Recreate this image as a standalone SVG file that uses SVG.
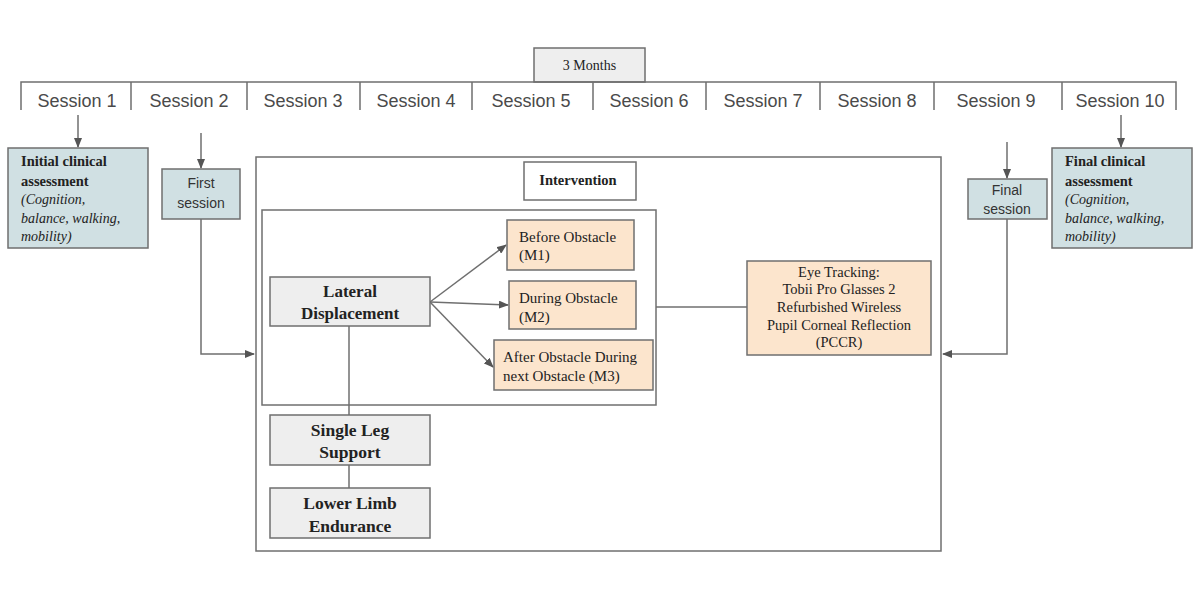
<svg xmlns="http://www.w3.org/2000/svg" width="1200" height="600" viewBox="0 0 1200 600">
<defs>
<marker id="ah" markerWidth="10" markerHeight="8" refX="9" refY="4" orient="auto" markerUnits="userSpaceOnUse">
<path d="M0,0 L10,4 L0,8 Z" fill="#555"/>
</marker>
<style>
.box{stroke:#6f6f6f;stroke-width:1.5}
.blue{fill:#d0e0e3}
.gray{fill:#eeeeee}
.org{fill:#fce5cd}
.wht{fill:#ffffff}
.ln{fill:none;stroke:#6f6f6f;stroke-width:1.5}
.ses{font-family:"Liberation Sans",Arial,sans-serif;font-size:18px;fill:#4a4a4a;text-anchor:middle}
.ser{font-family:"Liberation Serif","Times New Roman",serif;fill:#222}
.san{font-family:"Liberation Sans",Arial,sans-serif;fill:#333}
</style>
</defs>
<rect width="1200" height="600" fill="#ffffff"/>

<g id="timeline">
<rect x="534" y="48" width="111" height="34" class="box gray"/>
<text x="589.5" y="70" class="ser" font-size="14" text-anchor="middle">3 Months</text>
<path d="M21,110 V82 H1176 V110 M131,82 V110 M247,82 V110 M360,82 V110 M472,82 V110 M593,82 V110 M706,82 V110 M820,82 V110 M934,82 V110 M1062,82 V110" class="ln" stroke="#888"/>
<text x="77" y="106.5" class="ses">Session 1</text>
<text x="189" y="106.5" class="ses">Session 2</text>
<text x="303" y="106.5" class="ses">Session 3</text>
<text x="416" y="106.5" class="ses">Session 4</text>
<text x="531" y="106.5" class="ses">Session 5</text>
<text x="649" y="106.5" class="ses">Session 6</text>
<text x="763" y="106.5" class="ses">Session 7</text>
<text x="877" y="106.5" class="ses">Session 8</text>
<text x="996" y="106.5" class="ses">Session 9</text>
<text x="1120" y="106.5" class="ses">Session 10</text>
</g>

<g id="connectors">
<line x1="78" y1="115" x2="78" y2="147" class="ln" marker-end="url(#ah)"/>
<line x1="1121" y1="115" x2="1121" y2="147" class="ln" marker-end="url(#ah)"/>
<line x1="201" y1="133" x2="201" y2="168" class="ln" marker-end="url(#ah)"/>
<line x1="1007" y1="142" x2="1007" y2="178" class="ln" marker-end="url(#ah)"/>
<path d="M201,219 V354 H254" class="ln" marker-end="url(#ah)"/>
<path d="M1007,219 V354 H943" class="ln" marker-end="url(#ah)"/>
<line x1="430" y1="302" x2="506" y2="245" class="ln" marker-end="url(#ah)"/>
<line x1="430" y1="302" x2="508" y2="305" class="ln" marker-end="url(#ah)"/>
<line x1="430" y1="302" x2="493" y2="367" class="ln" marker-end="url(#ah)"/>
<line x1="656" y1="307" x2="747" y2="307" class="ln"/>
<line x1="349" y1="326" x2="349" y2="488" class="ln"/>
</g>

<g id="initial">
<rect x="8" y="148" width="140" height="100" class="box blue"/>
<text class="ser" font-size="14.5" font-weight="bold" x="21" y="166">Initial clinical</text>
<text class="ser" font-size="14.5" font-weight="bold" x="21" y="186">assessment</text>
<text class="ser" font-size="14" font-style="italic" x="21" y="204">(Cognition,</text>
<text class="ser" font-size="14" font-style="italic" x="21" y="223">balance, walking,</text>
<text class="ser" font-size="14" font-style="italic" x="21" y="241">mobility)</text>
</g>

<g id="final">
<rect x="1052" y="148" width="140" height="100" class="box blue"/>
<text class="ser" font-size="14.5" font-weight="bold" x="1065" y="166">Final clinical</text>
<text class="ser" font-size="14.5" font-weight="bold" x="1065" y="186">assessment</text>
<text class="ser" font-size="14" font-style="italic" x="1065" y="204">(Cognition,</text>
<text class="ser" font-size="14" font-style="italic" x="1065" y="223">balance, walking,</text>
<text class="ser" font-size="14" font-style="italic" x="1065" y="241">mobility)</text>
</g>

<g id="first-session">
<rect x="162" y="169" width="78" height="50" class="box blue"/>
<text class="san" font-size="14" text-anchor="middle" x="201" y="188">First</text>
<text class="san" font-size="14" text-anchor="middle" x="201" y="208">session</text>
</g>

<g id="final-session">
<rect x="968" y="179" width="79" height="40" class="box blue"/>
<text class="san" font-size="14" text-anchor="middle" x="1007" y="195">Final</text>
<text class="san" font-size="14" text-anchor="middle" x="1007" y="214">session</text>
</g>

<g id="intervention">
<rect x="256" y="157" width="685" height="394" fill="none" class="box"/>
<rect x="524" y="162" width="112" height="38" class="box wht"/>
<text class="ser" font-size="14.5" font-weight="bold" text-anchor="middle" x="578" y="185">Intervention</text>
<rect x="262" y="210" width="394" height="195" fill="none" class="box"/>
</g>

<g id="lateral">
<rect x="270" y="277" width="160" height="49" class="box gray"/>
<text class="ser" font-size="17" font-weight="bold" text-anchor="middle" x="350" y="297">Lateral</text>
<text class="ser" font-size="17" font-weight="bold" text-anchor="middle" x="350" y="319">Displacement</text>
</g>

<g id="before">
<rect x="507" y="220" width="127" height="50" class="box org"/>
<text class="ser" font-size="15" x="519" y="242">Before Obstacle</text>
<text class="ser" font-size="15" x="519" y="260">(M1)</text>
</g>

<g id="during">
<rect x="509" y="281" width="127" height="48" class="box org"/>
<text class="ser" font-size="15" x="519" y="303">During Obstacle</text>
<text class="ser" font-size="15" x="519" y="322">(M2)</text>
</g>

<g id="after">
<rect x="494" y="340" width="159" height="50" class="box org"/>
<text class="ser" font-size="15" x="503" y="362">After Obstacle During</text>
<text class="ser" font-size="15" x="503" y="381">next Obstacle (M3)</text>
</g>

<g id="eye">
<rect x="747" y="261" width="184" height="94" class="box org"/>
<text class="ser" font-size="14.5" text-anchor="middle" x="839" y="277">Eye Tracking:</text>
<text class="ser" font-size="14.5" text-anchor="middle" x="839" y="294">Tobii Pro Glasses 2</text>
<text class="ser" font-size="14.5" text-anchor="middle" x="839" y="312">Refurbished Wireless</text>
<text class="ser" font-size="14.5" text-anchor="middle" x="839" y="330">Pupil Corneal Reflection</text>
<text class="ser" font-size="14.5" text-anchor="middle" x="839" y="347">(PCCR)</text>
</g>

<g id="single-leg">
<rect x="270" y="415" width="160" height="50" class="box gray"/>
<text class="ser" font-size="17.5" font-weight="bold" text-anchor="middle" x="350" y="436">Single Leg</text>
<text class="ser" font-size="17.5" font-weight="bold" text-anchor="middle" x="350" y="458">Support</text>
</g>

<g id="lower-limb">
<rect x="270" y="488" width="160" height="50" class="box gray"/>
<text class="ser" font-size="17.5" font-weight="bold" text-anchor="middle" x="350" y="509">Lower Limb</text>
<text class="ser" font-size="17.5" font-weight="bold" text-anchor="middle" x="350" y="532">Endurance</text>
</g>
</svg>
